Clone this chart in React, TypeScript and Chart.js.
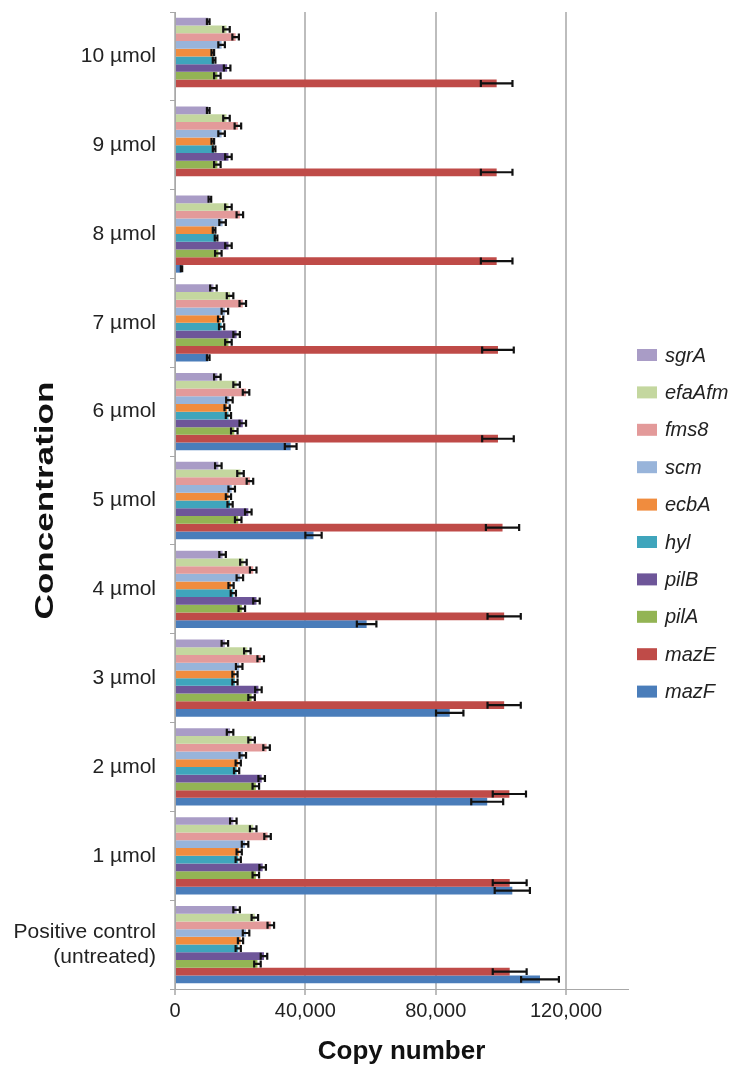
import React, { useEffect, useRef } from "react";
import { Chart, registerables } from "chart.js";

Chart.register(...registerables);

const categories: (string | string[])[] = [
  "10 µmol",
  "9 µmol",
  "8 µmol",
  "7 µmol",
  "6 µmol",
  "5 µmol",
  "4 µmol",
  "3 µmol",
  "2 µmol",
  "1 µmol",
  ["Positive control", "(untreated)"],
];

const seriesNames = ["sgrA", "efaAfm", "fms8", "scm", "ecbA", "hyl", "pilB", "pilA", "mazE", "mazF"];
const seriesColors = ["#A99CC6", "#C4D79F", "#E39A9A", "#98B4DA", "#F08C3E", "#3FA5BC", "#6E5699", "#93B454", "#BF4B48", "#4A7DBA"];

const sgrA = [10200, 10200, 10700, 11800, 13000, 13300, 14600, 15300, 16900, 17900, 18900];
const efaAfm = [15800, 15800, 16400, 16900, 18900, 20100, 21000, 22200, 23500, 24000, 24500];
const fms8 = [18600, 19300, 19900, 20800, 21800, 23000, 24000, 26300, 28100, 28400, 29400];
const scm = [14300, 14300, 14600, 15300, 16700, 17400, 19900, 19700, 20800, 21500, 21800];
const ecbA = [11600, 11600, 12000, 14000, 16000, 16400, 17200, 18400, 19400, 19700, 20100];
const hyl = [12000, 12000, 12600, 14300, 16400, 16900, 17900, 18400, 18900, 19400, 19400];
const pilB = [16000, 16400, 16400, 18900, 20800, 22500, 25000, 25600, 26600, 26900, 27300];
const pilA = [13000, 13000, 13300, 16400, 18200, 19400, 20500, 23500, 24800, 24800, 25300];
const mazE = [98700, 98700, 98700, 99100, 99100, 100500, 101000, 101000, 102600, 102700, 102700];
const mazF = [0, 0, 2000, 10200, 35500, 42500, 58800, 84300, 95800, 103500, 112000];

const sgrAErr = [400, 400, 400, 1000, 1000, 1000, 1000, 1000, 1000, 1000, 1000];
const efaAfmErr = [1000, 1000, 1000, 1000, 1000, 1000, 1000, 1000, 1000, 1000, 1000];
const fms8Err = [1000, 1000, 1000, 1000, 1000, 1000, 1000, 1000, 1000, 1000, 1000];
const scmErr = [1000, 1000, 1000, 1000, 1000, 1000, 1000, 1000, 1000, 1000, 1000];
const ecbAErr = [400, 400, 400, 800, 800, 800, 800, 800, 800, 800, 800];
const hylErr = [400, 400, 400, 800, 800, 800, 800, 800, 800, 800, 800];
const pilBErr = [1000, 1000, 1000, 1000, 1000, 1000, 1000, 1000, 1000, 1000, 1000];
const pilAErr = [1000, 1000, 1000, 1000, 1000, 1000, 1000, 1000, 1000, 1000, 1000];
const mazEErr = [4850, 4850, 4850, 4850, 4850, 5100, 5100, 5100, 5100, 5200, 5200];
const mazFErr = [0, 0, 200, 400, 1800, 2500, 3000, 4200, 4900, 5400, 5800];

const seriesValues = [sgrA, efaAfm, fms8, scm, ecbA, hyl, pilB, pilA, mazE, mazF];
const seriesErrors = [sgrAErr, efaAfmErr, fms8Err, scmErr, ecbAErr, hylErr, pilBErr, pilAErr, mazEErr, mazFErr];

const xTickValues = [0, 40000, 80000, 120000];
const yTitle = "Concentration";

const FONT = "'Liberation Sans', Arial, sans-serif";

const errorBarPlugin = {
  id: "errorBars",
  afterDatasetsDraw(chart: any) {
    const ctx = chart.ctx;
    const xScale = chart.scales.x;
    ctx.save();
    ctx.strokeStyle = "#111";
    ctx.lineWidth = 2.2;
    chart.data.datasets.forEach((ds: any, di: number) => {
      const meta = chart.getDatasetMeta(di);
      const errs = ds.errors as number[];
      meta.data.forEach((bar: any, i: number) => {
        const v = ds.data[i];
        const e = errs[i];
        if (!v || !e) return;
        const y = bar.y;
        const h = bar.height * 0.9;
        const x1 = xScale.getPixelForValue(v - e);
        const x2 = xScale.getPixelForValue(v + e);
        ctx.beginPath();
        ctx.moveTo(x1, y);
        ctx.lineTo(x2, y);
        ctx.moveTo(x1, y - h / 2);
        ctx.lineTo(x1, y + h / 2);
        ctx.moveTo(x2, y - h / 2);
        ctx.lineTo(x2, y + h / 2);
        ctx.stroke();
      });
    });
    ctx.restore();
  },
};

const legendPlugin = {
  id: "sideLegend",
  afterDraw(chart: any) {
    const ctx = chart.ctx;
    ctx.save();
    ctx.font = `italic 20px ${FONT}`;
    ctx.textBaseline = "middle";
    ctx.textAlign = "left";
    chart.data.datasets.forEach((ds: any, i: number) => {
      const y = 355 + i * 37.4;
      ctx.fillStyle = ds.backgroundColor;
      ctx.fillRect(637, y - 6, 20, 12);
      ctx.fillStyle = "#222";
      ctx.fillText(ds.label, 665, y + 1);
    });
    // y axis title, stretched along its length like the reference
    const area = chart.chartArea;
    ctx.translate(46, (area.top + area.bottom) / 2);
    ctx.rotate(-Math.PI / 2);
    ctx.scale(1.35, 1);
    ctx.font = `bold 26px ${FONT}`;
    ctx.textAlign = "center";
    ctx.fillStyle = "#111";
    ctx.fillText(yTitle, 0, 0);
    ctx.restore();
  },
};

export default function App() {
  const ref = useRef<HTMLCanvasElement | null>(null);

  useEffect(() => {
    document.body.style.margin = "0";
    const canvas = ref.current;
    if (!canvas) return;
    const chart = new Chart(canvas, {
      type: "bar",
      data: {
        labels: categories as any,
        datasets: seriesNames.map((name, i) => ({
          label: name,
          data: seriesValues[i],
          errors: seriesErrors[i],
          backgroundColor: seriesColors[i],
          borderWidth: 0,
          barPercentage: 1,
          categoryPercentage: 0.87,
        })) as any,
      },
      options: {
        indexAxis: "y",
        responsive: false,
        animation: false,
        layout: { padding: { top: 12, right: 107, bottom: 0, left: 0 } },
        plugins: {
          legend: { display: false },
          tooltip: { enabled: false },
        },
        scales: {
          x: {
            min: 0,
            max: 139000,
            afterBuildTicks: (s: any) => {
              s.ticks = xTickValues.map((v) => ({ value: v }));
            },
            afterFit: (s: any) => {
              s.height = 80;
              s.paddingLeft = 0;
              s.paddingRight = 0;
            },
            ticks: {
              font: { family: FONT, size: 20 },
              color: "#222",
              padding: 4,
              callback: (v: any) => Number(v).toLocaleString("en-US"),
            },
            grid: { color: "#BDBDBD", lineWidth: 2, tickLength: 6 },
            border: { color: "#A8A8A8", width: 1 },
            title: {
              display: true,
              text: "Copy number",
              font: { family: FONT, size: 26, weight: "bold" },
              color: "#111",
              padding: { top: 0, bottom: 2 },
            },
          },
          y: {
            afterFit: (s: any) => {
              s.width = 175;
              s.paddingTop = 0;
              s.paddingBottom = 0;
            },
            ticks: {
              font: { family: FONT, size: 21 },
              color: "#222",
              padding: 14,
            },
            grid: { drawOnChartArea: false, tickLength: 5, color: "#A8A8A8" },
            border: { color: "#A8A8A8", width: 1 },
          },
        },
      } as any,
      plugins: [errorBarPlugin, legendPlugin],
    });
    return () => chart.destroy();
  }, []);

  return <canvas ref={ref} width={735} height={1069} style={{ display: "block" }} />;
}
